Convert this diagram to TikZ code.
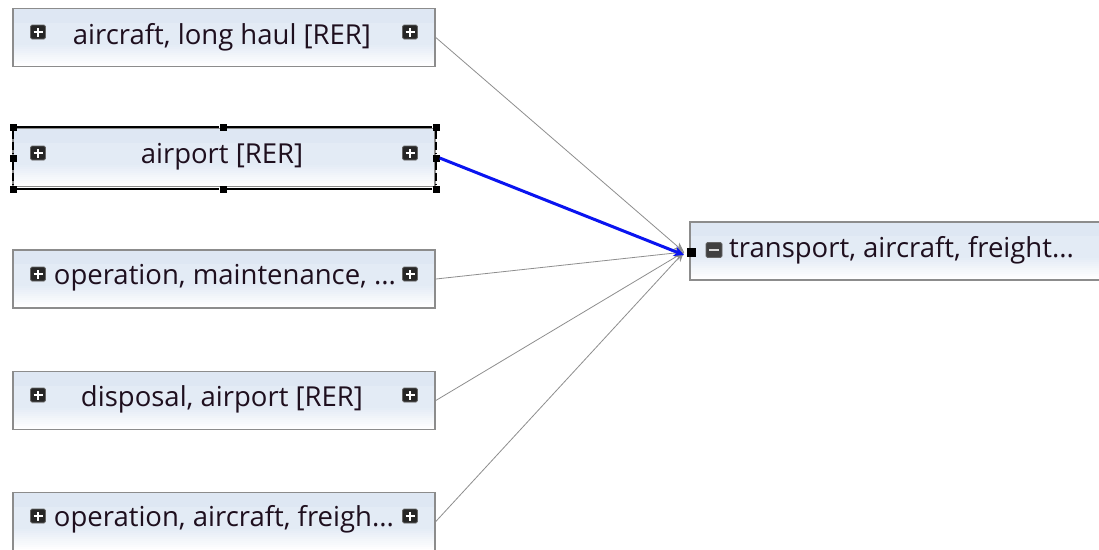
\documentclass[tikz,border=0pt]{standalone}
\usepackage{fontspec}
\setmainfont{Open Sans}
\usetikzlibrary{arrows.meta}
\definecolor{boxtop}{HTML}{DEE7F3}
\definecolor{boxline}{HTML}{8C8C8C}
\definecolor{txt}{HTML}{1E0F1E}
\definecolor{link}{HTML}{8E8E8E}
\definecolor{sel}{HTML}{0A14F0}
\tikzset{
  x=1pt, y=-1pt,
  % pale blue body that fades to white along the lower edge
  procbox/.style={draw=boxline, line width=1.6pt, rectangle, inner sep=0pt,
    minimum width=422pt, minimum height=58pt,
    path picture={
      \fill[boxtop!85!white] (path picture bounding box.south west) rectangle (path picture bounding box.north east);
      \fill[boxtop] ([yshift=-14pt]path picture bounding box.north west) rectangle (path picture bounding box.north east);
      \foreach \i in {0,...,11} {
        \pgfmathtruncatemacro\pct{\i*85/11}
        \fill[boxtop!\pct!white] ([yshift=\i*2pt]path picture bounding box.south west)
          rectangle ([yshift=\i*2pt+2.2pt]path picture bounding box.south east);
      }}},
  lbl/.style={text=txt, font=\fontsize{27.5}{30}\selectfont, inner sep=0pt, anchor=center},
  icon/.style={fill=black!85, draw=black!60, line width=0.8pt, rounded corners=1.5pt,
    minimum width=15pt, minimum height=14pt, inner sep=0pt,
    path picture={\draw[white, line width=2pt]
      ([xshift=-4.5pt]path picture bounding box.center) -- ([xshift=4.5pt]path picture bounding box.center)
      ([yshift=-4.5pt]path picture bounding box.center) -- ([yshift=4.5pt]path picture bounding box.center);}},
  iconminus/.style={fill=black!75, draw=black!60, line width=0.8pt, rounded corners=1.5pt,
    minimum width=16pt, minimum height=15pt, inner sep=0pt,
    path picture={\draw[white!85!black, line width=2.4pt]
      ([xshift=-5pt]path picture bounding box.center) -- ([xshift=5pt]path picture bounding box.center);}},
  handle/.style={fill=black, minimum size=7pt, inner sep=0pt, rectangle},
  feed/.style={draw=link, line width=0.8pt, -{Stealth[length=10pt, width=8pt]}},
  feedsel/.style={draw=sel, line width=3pt, -{Stealth[length=10pt, width=10pt]}},
}
\begin{document}
\begin{tikzpicture}
\useasboundingbox[fill=white] (0,0) rectangle (1099,549);

% source processes
\node[procbox] (b1) at (224,37.5) {};
\node[procbox] (b2) at (224,157.5) {};
\node[procbox] (b3) at (224,279) {};
\node[procbox] (b4) at (224,400.5) {};
\node[procbox] (b5) at (224,521.5) {};

\node[lbl] (t1) at (222,37) {aircraft, long haul [RER]};
\node[lbl] (t2) at (222,157) {airport [RER]};
\node[lbl] (t3) at (225,278) {operation, maintenance, ...};
\node[lbl] (t4) at (222,399) {disposal, airport [RER]};
\node[lbl] (t5) at (224,519) {operation, aircraft, freigh...};

\foreach \n/\yy in {1/32, 2/153, 3/274, 4/395, 5/516} {
  \node[icon] (l\n) at (38,\yy) {};
  \node[icon] (r\n) at (410,\yy) {};
}

% target process
\node[procbox, minimum width=420pt] (tg) at (900,251) {};
\node[iconminus] (m) at (714,250) {};
\node[lbl, anchor=west] (tt) at (729,250) {transport, aircraft, freight...};
\node[handle, minimum size=9pt] (port) at (691,252) {};

% selection frame around the airport process
\node[handle] (h1) at (13,127) {};
\node[handle] (h2) at (223,127) {};
\node[handle] (h3) at (436,127) {};
\node[handle] (h4) at (13,158) {};
\node[handle] (h5) at (436,158) {};
\node[handle] (h6) at (13,189) {};
\node[handle] (h7) at (223,189) {};
\node[handle] (h8) at (436,189) {};
\draw[line width=1.6pt] (h1) -- (h2) -- (h3) (h6) -- (h7) -- (h8);
\draw[line width=1.6pt, dash pattern=on 8pt off 3pt] (h1) -- (h4) -- (h6) (h3) -- (h5) -- (h8);

% links
\coordinate (tip) at (684,252);
\draw[feed] (b1.east) -- (tip);
\draw[feed] (b3.east) -- (tip);
\draw[feed] (b4.east) -- (tip);
\draw[feed] (b5.east) -- (tip);
\draw[feedsel] (h5.east) -- ([yshift=-3pt]tip);
\end{tikzpicture}
\end{document}
